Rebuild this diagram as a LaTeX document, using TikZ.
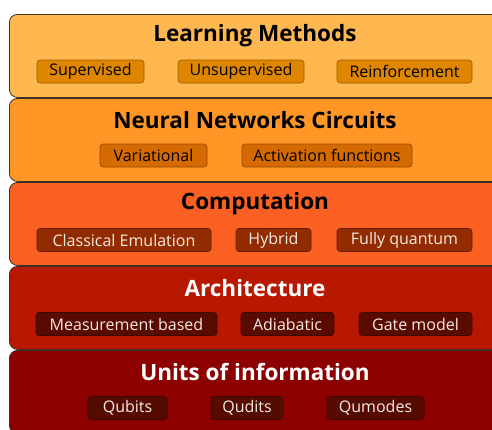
\documentclass[tikz,border=0pt]{standalone}
\usepackage{fontspec}
\setmainfont{Open Sans}

\definecolor{edge}{HTML}{3F3024}
\definecolor{lyA}{HTML}{FFB74F}
\definecolor{lyB}{HTML}{FF9626}
\definecolor{lyC}{HTML}{FA6022}
\definecolor{lyD}{HTML}{B81800}
\definecolor{lyE}{HTML}{8C0000}
\definecolor{pA}{HTML}{DF8600}
\definecolor{pB}{HTML}{D56A00}
\definecolor{pC}{HTML}{932B00}
\definecolor{pD}{HTML}{5A0B00}
\definecolor{pE}{HTML}{560B00}
\definecolor{lite}{HTML}{F4EAE4}

\begin{document}
\begin{tikzpicture}[x=1pt,y=-1pt,
    layer/.style={draw=edge, line width=0.8pt, rounded corners=8pt, anchor=north west,
        minimum width=494pt, minimum height=83pt, inner sep=0pt},
    ttl/.style={font=\fontsize{22.5}{26}\selectfont\bfseries},
    pill/.style={draw=#1!70!black, fill=#1, rounded corners=3pt, line width=0.6pt,
        minimum height=23pt, inner sep=0pt, font=\fontsize{16}{18}\selectfont}]
    \useasboundingbox (0,0) rectangle (492,429);
    \clip (0,0) rectangle (492,429);
    \foreach \n/\y/\c/\tc/\t in {learn/14/lyA/black/Learning Methods,
        neural/98/lyB/black/Neural Networks Circuits,
        comp/182/lyC/black/Computation,
        arch/266/lyD/white/Architecture,
        units/350/lyE/white/Units of information} {
        \node[layer, fill=\c] (\n) at (9,\y) {};
        \node[ttl, text=\tc] (\n-title) at (255,\y+22) {\t};
    }
    % learning methods
    \node[pill=pA, minimum width=107pt] (sup) at (90.5,71.5) {Supervised};
    \node[pill=pA, minimum width=126pt] (unsup) at (241,71.5) {Unsupervised};
    \node[pill=pA, minimum width=135pt] (reinf) at (404.5,71.5) {Reinforcement};
    % circuits
    \node[pill=pB, minimum width=107pt] (var) at (153.5,155.5) {Variational};
    \node[pill=pB, minimum width=170pt] (act) at (327,155.5) {Activation functions};
    % computation
    \node[pill=pC, text=lite, minimum width=174pt] (classic) at (124,240) {Classical Emulation};
    \node[pill=pC, text=lite, minimum width=75pt] (hybrid) at (273.5,240) {Hybrid};
    \node[pill=pC, text=lite, minimum width=135pt] (fully) at (404.5,240) {Fully quantum};
    % architecture
    \node[pill=pD, text=lite, minimum width=181pt] (meas) at (126.5,324) {Measurement based};
    \node[pill=pD, text=lite, minimum width=93pt] (adia) at (287.5,324) {Adiabatic};
    \node[pill=pD, text=lite, minimum width=113pt] (gate) at (415.5,324) {Gate model};
    % units
    \node[pill=pE, text=lite, minimum width=79pt] (qubit) at (127.5,408) {Qubits};
    \node[pill=pE, text=lite, minimum width=72pt] (qudit) at (247,408) {Qudits};
    \node[pill=pE, text=lite, minimum width=97pt] (qumode) at (375.5,408) {Qumodes};
\end{tikzpicture}
\end{document}
